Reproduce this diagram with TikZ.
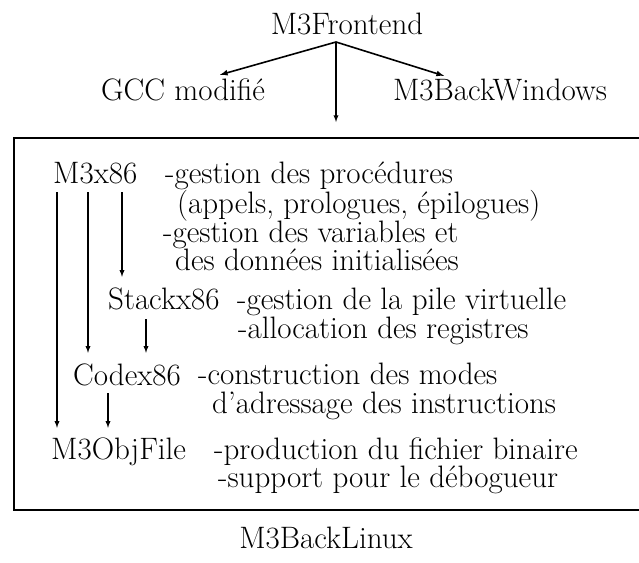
\documentclass[tikz,border=0pt]{standalone}
\usetikzlibrary{positioning}
\tikzstyle{mod}=[inner sep=0pt,anchor=base west,text height=21pt,text depth=0pt]
\tikzstyle{desc}=[inner sep=0pt,anchor=base west]
\tikzstyle{top}=[inner sep=0pt,anchor=base,text height=21pt,text depth=0pt]
\tikzstyle{use}=[->,line width=1.3pt]

\begin{document}
\begin{tikzpicture}[x=1pt,y=-1pt,>=latex,font=\fontsize{31}{33}\selectfont]
    \useasboundingbox (0,0) rectangle (639,562);
    % front end and its three back ends
    \node[top] (frontend) at (347,34) {M3Frontend};
    \node[top] (gcc) at (183,100) {GCC modifié};
    \node[top] (windows) at (500,100) {M3BackWindows};
    \node[draw,line width=1.8pt,inner sep=0pt,anchor=north west,minimum width=634pt,minimum height=372pt] (backlinux) at (13,137) {};
    \node[top] (linux) at (326,548) {M3BackLinux};
    \coordinate (split) at (336,42);
    \draw[use,line width=1.6pt] (split) -- ([xshift=37pt,yshift=4pt]gcc.north);
    \draw[use,line width=1.6pt] (split) -- ([xshift=-56pt,yshift=3pt]windows.north);
    \draw[use] (split) -- ([yshift=15pt]split |- backlinux.north);
    % modules of the Linux back end
    \node[mod] (m3x86) at (53,183) {M3x86};
    \node[mod] (stack) at (108,309) {Stackx86};
    \node[mod] (codex) at (73,385) {Codex86};
    \node[mod] (objfile) at (51,459) {M3ObjFile};
    \foreach \n/\xs/\ys/\txt in {d1/165/183/{-gestion des procédures},
        d2/177/213/{(appels, prologues, épilogues)},
        d3/163/242/{-gestion des variables et},
        d4/175/270/{des données initialisées},
        d5/237/309/{-gestion de la pile virtuelle},
        d6/238/338/{-allocation des registres},
        d7/198/384/{-construction des modes},
        d8/212/413/{d'adressage des instructions},
        d9/214/459/{-production du fichier binaire},
        d10/218/487/{-support pour le débogueur}}
        \node[desc] (\n) at (\xs,\ys) {\txt};
    % calls between modules
    \draw[use] ([xshift=4pt,yshift=-9pt]m3x86.south west) -- ([xshift=4pt,yshift=10pt]m3x86.south west |- objfile.north);
    \draw[use] ([xshift=35pt,yshift=-9pt]m3x86.south west) -- ([xshift=35pt,yshift=11pt]m3x86.south west |- codex.north);
    \draw[use] ([xshift=69pt,yshift=-9pt]m3x86.south west) -- ([xshift=69pt,yshift=11pt]m3x86.south west |- stack.north);
    \draw[use] ([xshift=38pt,yshift=-10pt]stack.south west) -- ([xshift=38pt,yshift=11pt]stack.south west |- codex.north);
    \draw[use] ([xshift=35pt,yshift=-8pt]codex.south west) -- ([xshift=35pt,yshift=10pt]codex.south west |- objfile.north);
\end{tikzpicture}
\end{document}
